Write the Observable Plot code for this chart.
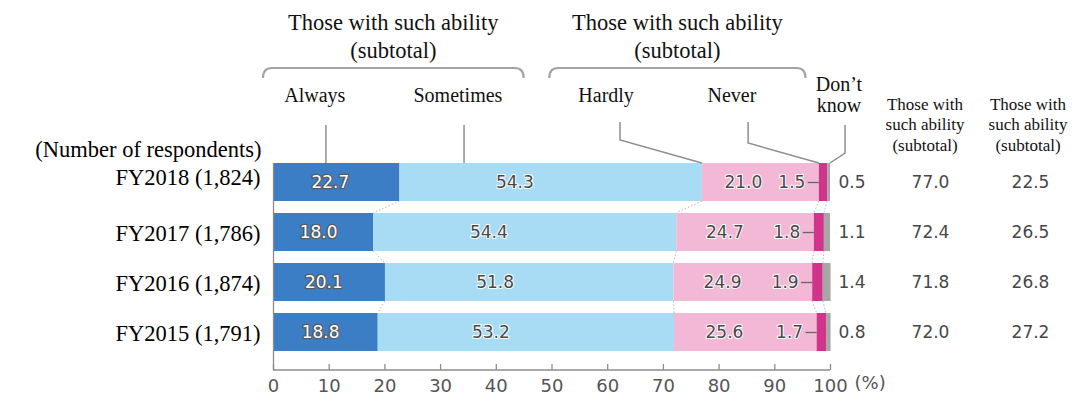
<!DOCTYPE html>
<html>
<head>
<meta charset="utf-8">
<script src="https://cdn.jsdelivr.net/npm/d3@7"></script>
<script src="https://cdn.jsdelivr.net/npm/@observablehq/plot@0.6"></script>
<style>
  html, body { margin: 0; padding: 0; background: #fff; }
  #chart svg { display: block; }
</style>
</head>
<body>
<div id="chart"></div>
<script>
// Survey rows (number of respondents in brackets)
const years = ["FY2018 (1,824)", "FY2017 (1,786)", "FY2016 (1,874)", "FY2015 (1,791)"];
const categories = ["Always", "Sometimes", "Hardly", "Never", "Don’t know"];

// Shares by answer, in %
const always    = [22.7, 18.0, 20.1, 18.8];
const sometimes = [54.3, 54.4, 51.8, 53.2];
const hardly    = [21.0, 24.7, 24.9, 25.6];
const never     = [1.5, 1.8, 1.9, 1.7];
const dontKnow  = [0.5, 1.1, 1.4, 0.8];

// Subtotal columns as published
const subtotalA = ["77.0", "72.4", "71.8", "72.0"];
const subtotalB = ["22.5", "26.5", "26.8", "27.2"];

const groupTitle = ["Those with such ability", "(subtotal)"];
const columnTitle = ["Those with", "such ability", "(subtotal)"];
const xTicks = [0, 10, 20, 30, 40, 50, 60, 70, 80, 90, 100];

const colors = ["#3b7ec6", "#a8dcf5", "#f3b8d5", "#d0358b", "#a6a6a6"];
const serif = "'Liberation Serif', 'Times New Roman', serif";
const sans = "'DejaVu Sans', sans-serif";
const bandPaddingInner = 0.24;

// Stack the answers left to right for each year
const series = [always, sometimes, hardly, never, dontKnow];
const rows = [];
const cumulative = years.map(() => []);
years.forEach((year, i) => {
  let acc = 0;
  categories.forEach((cat, k) => {
    const value = series[k][i];
    rows.push({year, cat, k, value, x1: acc, x2: acc + value});
    acc += value;
    cumulative[i].push(acc);
  });
});
const byCat = k => rows.filter(d => d.k === k);

// Headers, brackets, leader lines and connectors between bars
function annotations(index, scales, values, dims) {
  const x = scales.x, y = scales.y;
  const top = y(years[0]);
  const step = y(years[1]) - y(years[0]);
  const bw = step * (1 - bandPaddingInner);
  const g = d3.create("svg:g");

  // dotted connectors between the segment boundaries of adjacent bars
  const conn = g.append("g").attr("stroke", "#b9b9b9").attr("stroke-width", 1)
    .attr("stroke-dasharray", "1.5,2").attr("fill", "none");
  for (let i = 0; i < years.length - 1; i++) {
    for (const k of [0, 1, 2, 3]) {
      conn.append("line")
        .attr("x1", x(cumulative[i][k])).attr("y1", y(years[i]) + bw)
        .attr("x2", x(cumulative[i + 1][k])).attr("y2", y(years[i + 1]));
    }
  }

  // bottom axis line
  const base = dims.height - dims.marginBottom;
  g.append("line").attr("x1", x(0)).attr("x2", x(100)).attr("y1", base).attr("y2", base)
    .attr("stroke", "#8c8c8c").attr("stroke-width", 1.3);

  // group brackets with titles
  const groups = [[-1.8, 45], [49.6, 95.6]];
  const brTop = top - 95, brHook = top - 85;
  groups.forEach(([a, b]) => {
    const xa = x(a), xb = x(b);
    g.append("path")
      .attr("d", `M${xa},${brHook}Q${xa},${brTop} ${xa + 9},${brTop}L${xb - 9},${brTop}Q${xb},${brTop} ${xb},${brHook}`)
      .attr("fill", "none").attr("stroke", "#a3a3a3").attr("stroke-width", 2.2);
    const cx = (xa + xb) / 2;
    groupTitle.forEach((t, j) => {
      g.append("text").attr("x", cx).attr("y", top - 141 + j * 28).attr("dy", "0.35em")
        .attr("text-anchor", "middle").attr("font-family", serif).attr("font-size", 22.5)
        .attr("fill", "#111").text(t);
    });
  });

  // answer names
  const lab = (t, xv, yv) => g.append("text").attr("x", x(xv)).attr("y", yv).attr("dy", "0.35em")
    .attr("text-anchor", "middle").attr("font-family", serif).attr("font-size", 20)
    .attr("fill", "#111").text(t);
  lab(categories[0], 7.5, top - 68);
  lab(categories[1], 33.2, top - 68);
  lab(categories[2], 59.8, top - 68);
  lab(categories[3], 82.4, top - 68);
  const dk = categories[4].split(" ");
  lab(dk[0], 101.6, top - 79);
  lab(dk[1], 101.6, top - 58);

  // leader lines from the answer names down to the first bar
  const first = cumulative[0];
  const leaders = [
    [[9.5, top - 38], [9.5, top]],
    [[34.3, top - 38], [34.3, top]],
    [[62.3, top - 41], [62.3, top - 23], [first[1], top]],
    [[85.3, top - 41], [85.3, top - 20], [first[2], top]],
    [[102.7, top - 38], [102.7, top - 10], [100, top]]
  ];
  const line = d3.line().x(p => x(p[0])).y(p => p[1]);
  leaders.forEach(pts => g.append("path").attr("d", line(pts)).attr("fill", "none")
    .attr("stroke", "#8e8e8e").attr("stroke-width", 1.5));

  // column headers on the right
  [99, 202].forEach(off => {
    columnTitle.forEach((t, j) => {
      g.append("text").attr("x", x(100) + off - 4).attr("y", top - 59 + j * 20.5).attr("dy", "0.35em")
        .attr("text-anchor", "middle").attr("font-family", serif).attr("font-size", 17)
        .attr("fill", "#111").text(t);
    });
  });
  return g.node();
}

const valueStyle = {fontSize: 17, fontFamily: sans, fill: "#474747", stroke: "#fff", strokeWidth: 2};

const chart = Plot.plot({
  width: 1079,
  height: 406,
  marginLeft: 273,
  marginRight: 249,
  marginTop: 144,
  marginBottom: 36,
  style: {fontFamily: sans, background: "#fff", overflow: "visible"},
  x: {domain: [0, 100]},
  y: {domain: years, paddingInner: bandPaddingInner, paddingOuter: 0.38},
  color: {domain: categories, range: colors},
  marks: [
    Plot.barX(rows, {x1: "x1", x2: "x2", y: "year", fill: "cat"}),
    Plot.ruleX([0], {insetTop: 19, stroke: "#8c8c8c", strokeWidth: 1.3}),
    Plot.tickX(xTicks, {x: d => d, insetTop: 220, stroke: "#8c8c8c", strokeWidth: 1.3}),
    annotations,
    Plot.axisX(xTicks, {tickSize: 0, tickPadding: 9, fontSize: 18, color: "#555", label: null, fontFamily: sans}),
    Plot.text(["(%)"], {x: () => 100, frameAnchor: "bottom", dx: 24, dy: 18, textAnchor: "start", fontSize: 18, fill: "#555"}),
    Plot.axisY(years.slice(1), {tickSize: 0, tickPadding: 13, fontSize: 22.5, fontFamily: serif, color: "#000", label: null, dy: 1}),
    Plot.axisY(years.slice(0, 1), {tickSize: 0, tickPadding: 13, fontSize: 22.5, fontFamily: serif, color: "#000", label: null, dy: -5}),
    Plot.text(["(Number of respondents)"], {x: () => 0, frameAnchor: "top", dy: -3, dx: -12, textAnchor: "end", fontFamily: serif, fontSize: 22.5, fill: "#000"}),
    // values inside the bars
    Plot.text(byCat(0), {x: d => d.x1 + d.value * 0.45, y: "year", text: d => d.value.toFixed(1),
      fontSize: 17, fontFamily: sans, fill: "#fff", stroke: "#5a5a5a", strokeWidth: 2.5}),
    Plot.text(byCat(1), {x: d => d.x1 + d.value * 0.38, y: "year", text: d => d.value.toFixed(1), ...valueStyle}),
    Plot.text(byCat(2), {x: d => d.x1 + d.value * 0.35, y: "year", text: d => d.value.toFixed(1), ...valueStyle}),
    Plot.ruleY(byCat(3), {y: "year", x1: d => d.x1 - 2, x2: "x1", stroke: "#666", strokeWidth: 1.3}),
    Plot.text(byCat(3), {x: "x1", y: "year", dx: -14, textAnchor: "end", text: d => d.value.toFixed(1), ...valueStyle}),
    Plot.text(byCat(4), {x: () => 100, y: "year", dx: 8, textAnchor: "start", text: d => d.value.toFixed(1), ...valueStyle}),
    // subtotal columns
    Plot.text(years, {x: () => 100, y: d => d, dx: 100, text: (d, i) => subtotalA[i], ...valueStyle}),
    Plot.text(years, {x: () => 100, y: d => d, dx: 200, text: (d, i) => subtotalB[i], ...valueStyle})
  ]
});

document.getElementById("chart").append(chart);
</script>
</body>
</html>
